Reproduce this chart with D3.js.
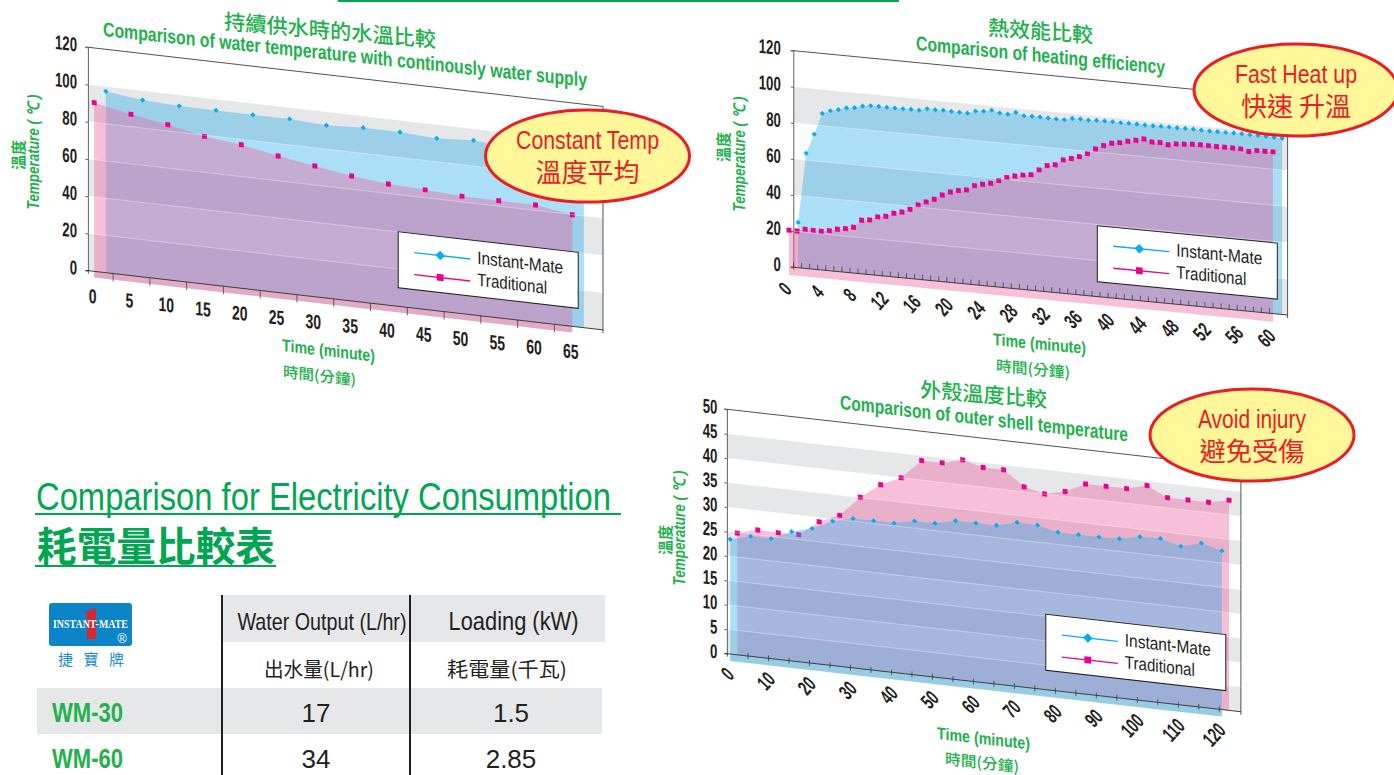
<!DOCTYPE html>
<html>
<head>
<meta charset="utf-8">
<title>Comparison charts</title>
<script src="https://cdn.jsdelivr.net/npm/d3@7"></script>
<style>
  body { margin: 0; background: #fff; }
  svg { display: block; }
  .narrow { font-family: "Liberation Sans Narrow", "Liberation Sans", Arial, sans-serif; }
  .sans { font-family: "Liberation Sans", Arial, sans-serif; }
  .cjk { font-family: "Noto Sans CJK TC", sans-serif; }
</style>
</head>
<body>
<svg id="page" width="1394" height="775"></svg>
<script>
// water temperature chart
const waterTime = [0, 5, 10, 15, 20, 25, 30, 35, 40, 45, 50, 55, 60, 65];
const waterInstant = [97.4, 95, 94.1, 94, 93.9, 93.9, 92.8, 93.8, 93.7, 92.6, 93.8, 92, 91, 90];
const waterTraditional = [93.9, 89.9, 86.6, 82.6, 80.4, 76.6, 73.5, 70.4, 68.4, 67.5, 66.3, 66.2, 66.2, 63.2];
const waterYTicks = [0, 20, 40, 60, 80, 100, 120];

// heating efficiency chart
const heatTime = [0, 1, 2, 3, 4, 5, 6, 7, 8, 9, 10, 11, 12, 13, 14, 15, 16, 17, 18, 19, 20, 21, 22, 23, 24, 25, 26, 27, 28, 29, 30,
  31, 32, 33, 34, 35, 36, 37, 38, 39, 40, 41, 42, 43, 44, 45, 46, 47, 48, 49, 50, 51, 52, 53, 54, 55, 56, 57, 58, 59, 60];
const heatInstant = [25.1, 63.8, 74.8, 86.8, 88.7, 89.7, 91.1, 91.7, 93, 93.6, 93.7, 93.6, 93.6, 93.7, 93.8, 93.7,
  95, 94.8, 95, 94.8, 94.7, 94.7, 96.3, 96.6, 97.6, 96.5, 96.3, 97.7, 96.3, 96.4, 96.4,
  96.3, 96.2, 96.2, 97.4, 97.5, 97.3, 97.6, 97.7, 97.7, 97.6, 97.7, 97.7, 97.6, 97.6, 97.7,
  97.8, 97.8, 97.9, 97.9, 97.8, 97.7, 97.8, 97.8, 97.9, 97.9, 97.8, 97.9, 97.8, 97.7, 97.6];
const heatTraditional = [24.8, 24.8, 26.2, 26, 25.9, 26.7, 27.9, 28.7, 29.9, 34.2, 34.8, 36.9, 37.7, 39.8, 40.9, 42.9,
  45.7, 47.8, 49.7, 52.5, 54.6, 55.8, 56.6, 59.4, 60.6, 61.6, 63.5, 65.6, 66.9, 67.8, 68.5,
  71.6, 74.4, 75.3, 78.4, 79.6, 81.1, 83.2, 86.2, 88.5, 90.2, 91, 92.2, 93.2, 94.3, 93.1,
  93.2, 92.4, 93.3, 93.6, 94, 94.1, 94.1, 94, 94.1, 94.1, 94, 93, 93.9, 94, 94.1];
const heatLabels = [0, 4, 8, 12, 16, 20, 24, 28, 32, 36, 40, 44, 48, 52, 56, 60];
const heatYTicks = [0, 20, 40, 60, 80, 100, 120];

// outer shell chart
const shellTime = [0, 5, 10, 15, 20, 25, 30, 35, 40, 45, 50, 55, 60, 65, 70, 75, 80, 85, 90, 95, 100, 105, 110, 115, 120];
const shellInstant = [24.9, 26, 26, 27.9, 29, 31, 32, 32, 32, 32.9, 32.9, 33.9, 33.9, 33.9, 35, 34.9, 33.9, 33.9, 33.9, 34, 34.9, 35, 33.9, 35, 33.9];
const shellTraditional = [24.9, 26, 25.9, 26, 29.1, 30.9, 35.1, 38.1, 40, 44, 44, 45.1, 44, 44, 41, 40, 41, 43, 43, 43, 44.1, 42.1, 42.1, 42.1, 43];
const shellLabels = [0, 10, 20, 30, 40, 50, 60, 70, 80, 90, 100, 110, 120];
const shellYTicks = [0, 5, 10, 15, 20, 25, 30, 35, 40, 45, 50];

// table
const tableModels = ['WM-30', 'WM-60'];
const tableOutput = ['17', '34'];
const tableLoading = ['1.5', '2.85'];

const GREEN = '#22b14c';
const RED = '#ed1c24';
const BLUE_MARK = '#00aeef';
const PINK_MARK = '#ec008c';
const BLUE_FILL = 'rgba(45,175,235,0.4)';
const PINK_FILL = 'rgba(237,95,157,0.4)';
const GRAY = '#e6e7e8';
const INK = '#231f20';

const svg = d3.select('#page');

// top rule
svg.append('rect').attr('x', 338).attr('y', 0).attr('width', 561).attr('height', 2).attr('fill', '#00a651');

// text on the same slant as the chart it belongs to
function slantText(parent, px, py, slope, str, opts) {
  const t = parent.append('text')
    .attr('transform', `translate(${px},${py}) matrix(1,${opts.slope || slope},0,1,0,0)`)
    .attr('class', opts.cls || 'narrow')
    .attr('font-size', opts.size)
    .attr('font-weight', opts.weight || 'bold')
    .attr('fill', opts.fill || GREEN)
    .text(str);
  if (opts.len) t.attr('textLength', opts.len).attr('lengthAdjust', 'spacingAndGlyphs');
  return t;
}

function drawSeries(g, times, values, x, y, dx, dy, fill, marker) {
  const s = g.append('g').attr('transform', `translate(${dx},${dy})`);
  const rows = times.map((t, i) => ({ t, v: values[i] }));
  const area = d3.area().x(d => x(d.t)).y0(y(0)).y1(d => y(d.v));
  s.append('path').attr('d', area(rows)).attr('fill', fill);
  s.selectAll('path.mark').data(rows).join('path')
    .attr('class', 'mark')
    .attr('transform', d => `translate(${x(d.t)},${y(d.v)})`)
    .attr('d', marker.path)
    .attr('fill', marker.color);
}

function drawChart(c) {
  const y = d3.scaleLinear().domain([0, c.yMax]).range([0, -c.height]);
  const x = d3.scaleLinear().domain([c.times[0], c.times[c.times.length - 1]]).range(c.xRange);
  const g = svg.append('g').attr('transform', `translate(${c.ox},${c.oy}) matrix(1,${c.slope},0,1,0,0)`);

  // wall bands
  const bands = c.yTicks.filter((d, i) => i < c.yTicks.length - 1 && i % 2 === 0).slice(0, c.bandCount);
  g.selectAll('rect.band').data(bands).join('rect')
    .attr('class', 'band')
    .attr('x', 0).attr('width', c.width)
    .attr('y', d => y(d + c.yTicks[1]))
    .attr('height', d => y(d) - y(d + c.yTicks[1]))
    .attr('fill', GRAY);

  // floor strip under the front series
  g.append('rect')
    .attr('x', x.range()[0] + c.front.dx).attr('width', x.range()[1] - x.range()[0])
    .attr('y', 0).attr('height', c.front.dy)
    .attr('fill', c.floor);

  // wall outline
  g.append('line').attr('x1', 0).attr('x2', 0).attr('y1', y(c.yMax)).attr('y2', 3).attr('stroke', '#555').attr('stroke-width', 0.9);
  g.append('line').attr('x1', c.width).attr('x2', c.width).attr('y1', y(c.yMax)).attr('y2', 3).attr('stroke', '#444').attr('stroke-width', 0.9);
  g.append('line').attr('x1', -3).attr('x2', c.width).attr('y1', y(c.yMax)).attr('y2', y(c.yMax)).attr('stroke', '#444').attr('stroke-width', 0.9);

  drawSeries(g, c.times, c.back.values, x, y, c.back.dx, c.back.dy, c.back.fill, c.back.marker);
  drawSeries(g, c.times, c.front.values, x, y, c.front.dx, c.front.dy, c.front.fill, c.front.marker);

  // faint grid over the fills
  g.selectAll('line.grid').data(c.yTicks.slice(1, -1)).join('line')
    .attr('class', 'grid')
    .attr('x1', 0).attr('x2', c.width)
    .attr('y1', d => y(d)).attr('y2', d => y(d))
    .attr('stroke', 'rgba(255,255,255,0.4)').attr('stroke-width', 0.8);

  // y axis
  const yAxis = g.append('g')
    .call(d3.axisLeft(y).tickValues(c.yTicks).tickSize(3));
  yAxis.select('.domain').remove();
  yAxis.selectAll('line').attr('stroke', '#666');
  yAxis.selectAll('text')
    .attr('class', 'sans').attr('font-size', 20).attr('font-weight', 'bold').attr('fill', INK)
    .attr('x', 0).attr('y', 0).attr('dy', '.35em')
    .attr('transform', `translate(${c.yLabelX},${c.yLabelDy}) scale(.66,1)`);

  // x axis: the tick marks sit between the labelled times
  const tickAxis = g.append('g').attr('transform', `translate(0,${c.tickShift})`)
    .call(d3.axisBottom(x).tickValues(c.times.slice(0, -1).map((t, i) => (t + c.times[i + 1]) / 2)).tickSize(c.tickLen).tickFormat(''));
  tickAxis.select('.domain').remove();
  tickAxis.selectAll('line').attr('stroke', '#333').attr('stroke-width', 0.7);

  g.append('line').attr('x1', -3).attr('x2', c.width).attr('y1', 0).attr('y2', 0).attr('stroke', '#333').attr('stroke-width', 0.9);

  const labelAxis = g.append('g')
    .call(d3.axisBottom(x).tickValues(c.labels).tickSize(0).tickFormat(d3.format('d')));
  labelAxis.select('.domain').remove();
  labelAxis.selectAll('text')
    .attr('class', 'sans').attr('font-size', 20).attr('font-weight', 'bold').attr('fill', INK)
    .attr('y', 0).attr('dy', '.35em').attr('x', 0)
    .attr('text-anchor', c.labelAngle ? 'end' : 'middle')
    .attr('transform', `translate(${c.labelDx},${c.labelDy}) rotate(${c.labelAngle}) scale(.7,1)`);

  // legend
  const lg = svg.append('g').attr('transform', `translate(${c.legend[0]},${c.legend[1]}) matrix(1,${c.slope},0,1,0,0)`);
  lg.append('rect').attr('width', 180).attr('height', 56).attr('fill', '#fff').attr('stroke', INK).attr('stroke-width', 1);
  const rows = [
    { name: 'Instant-Mate', color: BLUE_MARK, path: d3.symbol(d3.symbolDiamond2, 58)(), yy: 19, len: 86 },
    { name: 'Traditional', color: PINK_MARK, path: d3.symbol(d3.symbolSquare, 46)(), yy: 41, len: 70 }
  ];
  const lr = lg.selectAll('g').data(rows).join('g').attr('transform', d => `translate(0,${d.yy})`);
  lr.append('line').attr('x1', 16).attr('x2', 72).attr('stroke', d => d.color).attr('stroke-width', 1.3);
  lr.append('path').attr('transform', 'translate(42,0)').attr('d', d => d.path).attr('fill', d => d.color);
  lr.append('text').attr('class', 'narrow').attr('x', 79).attr('y', 4)
    .attr('font-size', 18).attr('fill', INK)
    .attr('textLength', d => d.len).attr('lengthAdjust', 'spacingAndGlyphs')
    .text(d => d.name);

  // titles
  c.titles.forEach(t => slantText(svg, t.x, t.y, c.slope, t.str, t));

  // vertical axis titles
  svg.append('text').attr('class', 'narrow')
    .attr('transform', `translate(${c.yTitle[0]},${c.yTitle[1]}) rotate(-90)`)
    .attr('text-anchor', 'middle').attr('font-size', 16).attr('font-weight', 'bold').attr('font-style', 'italic').attr('fill', GREEN)
    .attr('textLength', 115).attr('lengthAdjust', 'spacingAndGlyphs')
    .text('Temperature ( ℃ )');
  svg.append('text').attr('class', 'cjk')
    .attr('transform', `translate(${c.yTitleZh[0]},${c.yTitleZh[1]}) rotate(-90)`)
    .attr('text-anchor', 'middle').attr('font-size', 15).attr('font-weight', 'bold').attr('fill', GREEN)
    .text('溫度');

  // callout
  const co = svg.append('g').attr('transform', `translate(${c.callout.x},${c.callout.y})`);
  co.append('ellipse').attr('rx', 102).attr('ry', 46).attr('fill', '#fff799').attr('stroke', RED).attr('stroke-width', 3);
  co.append('text').attr('class', 'narrow').attr('text-anchor', 'middle').attr('y', -7).attr('font-size', 25).attr('fill', RED)
    .attr('textLength', c.callout.len).attr('lengthAdjust', 'spacingAndGlyphs').text(c.callout.en);
  co.append('text').attr('class', 'cjk').attr('text-anchor', 'middle').attr('y', 26).attr('font-size', 26).attr('fill', RED)
    .attr('textLength', c.callout.lenZh).attr('lengthAdjust', 'spacingAndGlyphs').text(c.callout.zh);
}

const blueMark = { color: BLUE_MARK, path: d3.symbol(d3.symbolDiamond2, 17)() };
const pinkMark = { color: PINK_MARK, path: d3.symbol(d3.symbolSquare, 24)() };

drawChart({
  ox: 88.4, oy: 270.7, slope: 0.115, width: 514.6, height: 223.4, yMax: 120,
  yTicks: waterYTicks, bandCount: 3, yLabelX: -11.4, yLabelDy: -2,
  times: waterTime, labels: waterTime, xRange: [5.8, 483.9],
  back: { values: waterInstant, dx: 11.6, dy: 0, fill: BLUE_FILL, marker: blueMark },
  front: { values: waterTraditional, dx: 0, dy: 6.1, fill: PINK_FILL, marker: pinkMark },
  floor: '#dcdcde',
  tickShift: 0, tickLen: 8, labelDx: -2, labelDy: 25, labelAngle: 0,
  legend: [398.2, 231.7],
  titles: [
    { str: '持續供水時的水溫比較', x: 224, y: 29, size: 21, cls: 'cjk', weight: 500, len: 212, slope: 0.087 },
    { str: 'Comparison of water temperature with continously water supply', x: 103, y: 36, size: 20, len: 484, slope: 0.105 },
    { str: 'Time (minute)', x: 282, y: 351, size: 17, len: 93 },
    { str: '時間(分鐘)', x: 283, y: 377, size: 15, cls: 'cjk', weight: 500, len: 73 }
  ],
  yTitle: [39, 152], yTitleZh: [24, 155],
  callout: { x: 587.5, y: 156, en: 'Constant Temp', zh: '溫度平均', len: 143, lenZh: 104 }
});

drawChart({
  ox: 793.8, oy: 267.3, slope: 0.0966, width: 493.8, height: 216.6, yMax: 120,
  yTicks: heatYTicks, bandCount: 3, yLabelX: -13, yLabelDy: -2,
  times: heatTime, labels: heatLabels, xRange: [-4.8, 479.2],
  back: { values: heatInstant, dx: 9.1, dy: 0, fill: BLUE_FILL, marker: blueMark },
  front: { values: heatTraditional, dx: 0, dy: 8.1, fill: PINK_FILL, marker: pinkMark },
  floor: 'none',
  tickShift: -5, tickLen: 5, labelDx: -2, labelDy: 19, labelAngle: -50,
  legend: [1097.3, 225.7],
  titles: [
    { str: '熱效能比較', x: 988, y: 35, size: 21, cls: 'cjk', weight: 500, len: 105, slope: 0.073 },
    { str: 'Comparison of heating efficiency', x: 916, y: 50, size: 20, len: 249 },
    { str: 'Time (minute)', x: 993, y: 345, size: 17, len: 93 },
    { str: '時間(分鐘)', x: 996, y: 371, size: 15, cls: 'cjk', weight: 500, len: 74 }
  ],
  yTitle: [745, 154], yTitleZh: [729, 147],
  callout: { x: 1296, y: 90, en: 'Fast Heat up', zh: '快速 升溫', len: 122, lenZh: 110 }
});

drawChart({
  ox: 727.4, oy: 653.7, slope: 0.113, width: 513.5, height: 244.4, yMax: 50,
  yTicks: shellYTicks, bandCount: 5, yLabelX: -10, yLabelDy: -1.5,
  times: shellTime, labels: shellLabels, xRange: [9.9, 501.6],
  back: { values: shellTraditional, dx: 0, dy: 0, fill: PINK_FILL, marker: pinkMark },
  front: { values: shellInstant, dx: -7.1, dy: 7, fill: BLUE_FILL, marker: blueMark },
  floor: '#e0e0e2',
  tickShift: -3, tickLen: 6, labelDx: -8, labelDy: 17, labelAngle: -50,
  legend: [1045.8, 614.3],
  titles: [
    { str: '外殼溫度比較', x: 920, y: 397, size: 21, cls: 'cjk', weight: 500, len: 127, slope: 0.08 },
    { str: 'Comparison of outer shell temperature', x: 840, y: 409, size: 20, len: 288 },
    { str: 'Time (minute)', x: 937, y: 739, size: 17, len: 93 },
    { str: '時間(分鐘)', x: 945, y: 764, size: 15, cls: 'cjk', weight: 500, len: 74 }
  ],
  yTitle: [685, 528], yTitleZh: [671, 540],
  callout: { x: 1252, y: 435, en: 'Avoid injury', zh: '避免受傷', len: 108, lenZh: 105 }
});

// electricity consumption section
function drawTable() {
  const t = svg.append('g');
  t.append('text').attr('class', 'narrow').attr('x', 36).attr('y', 510).attr('font-size', 38).attr('fill', '#00a651')
    .attr('textLength', 575).attr('lengthAdjust', 'spacingAndGlyphs').text('Comparison for Electricity Consumption');
  t.append('rect').attr('x', 35).attr('y', 513).attr('width', 586).attr('height', 2).attr('fill', '#00a651');
  t.append('text').attr('class', 'cjk').attr('x', 37).attr('y', 561).attr('font-size', 40).attr('font-weight', 'bold').attr('fill', '#00a651')
    .attr('textLength', 238).attr('lengthAdjust', 'spacingAndGlyphs').text('耗電量比較表');
  t.append('rect').attr('x', 35).attr('y', 565).attr('width', 241).attr('height', 2).attr('fill', '#00a651');

  t.append('rect').attr('x', 223).attr('y', 595).attr('width', 382).attr('height', 47).attr('fill', GRAY);
  t.append('rect').attr('x', 37).attr('y', 688).attr('width', 565).attr('height', 46).attr('fill', GRAY);
  [222, 410].forEach(xx => t.append('line').attr('x1', xx).attr('x2', xx).attr('y1', 595).attr('y2', 775).attr('stroke', INK).attr('stroke-width', 2));

  const head = [
    { str: 'Water Output (L/hr)', x: 322, y: 630, cls: 'narrow', size: 24, len: 169 },
    { str: 'Loading (kW)', x: 513.5, y: 630, cls: 'narrow', size: 26, len: 130 },
    { str: '出水量(L/hr)', x: 319, y: 677, cls: 'cjk', size: 20, len: 110 },
    { str: '耗電量(千瓦)', x: 507, y: 677, cls: 'cjk', size: 20, len: 120 }
  ];
  t.selectAll('text.head').data(head).join('text')
    .attr('class', d => 'head ' + d.cls)
    .attr('x', d => d.x).attr('y', d => d.y).attr('text-anchor', 'middle')
    .attr('font-size', d => d.size).attr('fill', INK)
    .attr('textLength', d => d.len).attr('lengthAdjust', 'spacingAndGlyphs')
    .text(d => d.str);

  const rowY = d3.scalePoint().domain(tableModels).range([722, 768]);
  t.selectAll('text.model').data(tableModels).join('text')
    .attr('class', 'model narrow').attr('x', 52).attr('y', d => rowY(d))
    .attr('font-size', 27).attr('font-weight', 'bold').attr('fill', GREEN)
    .attr('textLength', 71).attr('lengthAdjust', 'spacingAndGlyphs').text(d => d);
  t.selectAll('text.output').data(tableOutput).join('text')
    .attr('class', 'output sans').attr('x', 316).attr('y', (d, i) => rowY(tableModels[i]))
    .attr('text-anchor', 'middle').attr('font-size', 26).attr('fill', INK).text(d => d);
  t.selectAll('text.loading').data(tableLoading).join('text')
    .attr('class', 'loading sans').attr('x', 511).attr('y', (d, i) => rowY(tableModels[i]))
    .attr('text-anchor', 'middle').attr('font-size', 26).attr('fill', INK).text(d => d);

  // brand logo
  const logo = t.append('g').attr('transform', 'translate(49,603)');
  logo.append('rect').attr('width', 83).attr('height', 43).attr('rx', 3).attr('fill', '#0b84c8');
  logo.append('path').attr('d', 'M36 9 L47 5 L47 36 L38 36 L38 13 Z').attr('fill', '#d9262e');
  logo.append('text').attr('x', 41.5).attr('y', 25).attr('text-anchor', 'middle').attr('font-family', 'Liberation Serif, serif')
    .attr('font-size', 12).attr('font-weight', 'bold').attr('fill', '#fff')
    .attr('textLength', 75).attr('lengthAdjust', 'spacingAndGlyphs').text('INSTANT-MATE');
  logo.append('text').attr('x', 73).attr('y', 40).attr('text-anchor', 'middle').attr('class', 'sans')
    .attr('font-size', 13).attr('fill', '#fff').text('®');
  t.append('text').attr('class', 'cjk').attr('x', 91).attr('y', 665).attr('text-anchor', 'middle')
    .attr('font-size', 15).attr('fill', '#1a8fd1')
    .attr('textLength', 66).text('捷 寶 牌');
}
drawTable();
</script>
</body>
</html>
